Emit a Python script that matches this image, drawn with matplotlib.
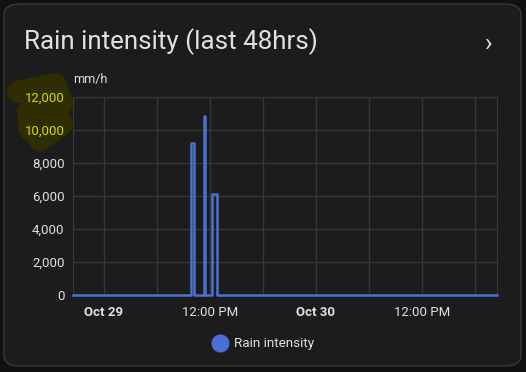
import matplotlib.pyplot as plt
from matplotlib.patches import FancyBboxPatch
from matplotlib.ticker import FuncFormatter
import pandas as pd

plt.rcParams['font.family'] = ['Roboto', 'DejaVu Sans']

# step data: time of change -> rain intensity (mm/h)
times = pd.to_datetime([
    "2023-10-28 20:30", "2023-10-29 09:49", "2023-10-29 10:14",
    "2023-10-29 11:17", "2023-10-29 11:26", "2023-10-29 12:16",
    "2023-10-29 12:48", "2023-10-30 20:30",
])
values = [0, 9200, 0, 10850, 0, 6100, 0, 0]

x_start = pd.Timestamp("2023-10-28 20:30")
x_end = pd.Timestamp("2023-10-30 20:30")
y_ticks = [0, 2000, 4000, 6000, 8000, 10000, 12000]
x_labels = ["Oct 29", "12:00 PM", "Oct 30", "12:00 PM"]

bg = '#1c1c1c'
blue = '#4a70d4'
fig = plt.figure(figsize=(5.26, 3.72), dpi=100)
fig.patch.set_facecolor('#111111')

card = FancyBboxPatch((4 / 526, 6 / 372), 517 / 526, 362 / 372,
                      boxstyle="round,pad=0,rounding_size=0.03",
                      transform=fig.transFigure, facecolor=bg,
                      edgecolor='#3a3a3a', linewidth=1, zorder=-10)
fig.add_artist(card)

# yellow scribble over the top labels
fig.add_artist(plt.Line2D(
    [18 / 526, 55 / 526, 62 / 526, 28 / 526, 30 / 526, 62 / 526, 40 / 526],
    [1 - 92 / 372, 1 - 84 / 372, 1 - 104 / 372, 1 - 112 / 372,
     1 - 130 / 372, 1 - 124 / 372, 1 - 140 / 372],
    transform=fig.transFigure, color='#2e2e00', lw=16,
    solid_capstyle='round', solid_joinstyle='round', zorder=-5))

fig.text(24 / 526, 1 - 42 / 372, "Rain intensity (last 48hrs)",
         color='#e1e1e1', fontsize=18.7, va='center', ha='left')
fig.text(489 / 526, 1 - 44 / 372, "›", color='#e1e1e1', fontsize=18,
         va='center', ha='center')
fig.text(73 / 526, 1 - 80 / 372, "mm/h", color='#e1e1e1', fontsize=9,
         va='center', ha='left')

ax = fig.add_axes([73 / 526, 1 - 295 / 372, 424 / 526, 198 / 372])
ax.set_facecolor('none')
ax.step(times, values, where='post', color=blue, lw=1.8, zorder=3,
        clip_on=False)
ax.set_xlim(x_start, x_end)
ax.set_ylim(0, 12000)
ax.set_yticks(y_ticks)
ax.yaxis.set_major_formatter(FuncFormatter(lambda v, p: f"{int(v):,}"))

major = pd.to_datetime(["2023-10-29 00:00", "2023-10-29 12:00",
                        "2023-10-30 00:00", "2023-10-30 12:00"])
minor = pd.date_range("2023-10-29 00:00", "2023-10-30 18:00", freq="6h")
ax.set_xticks(major)
ax.set_xticks(minor, minor=True)
ax.set_xticklabels(x_labels)
for lbl in ax.get_xticklabels():
    if lbl.get_text().startswith("Oct"):
        lbl.set_fontweight('bold')

ax.grid(True, which='both', color='#363636', lw=1)
ax.tick_params(which='both', length=0, colors='#e1e1e1', labelsize=9.5)
ax.tick_params(axis='x', pad=8)
ax.tick_params(axis='y', pad=6)
for lbl in ax.get_yticklabels():
    if lbl.get_text() in ("12,000", "10,000"):
        lbl.set_color('#d8d800')
for s in ax.spines.values():
    s.set_color('#363636')
ax.spines['bottom'].set_visible(False)
ax.set_axisbelow(True)

# legend
fig.add_artist(plt.Line2D([220 / 526], [1 - 343 / 372], marker='o',
                          markersize=12, color=blue, linestyle='none',
                          transform=fig.transFigure))
fig.text(234 / 526, 1 - 343 / 372, "Rain intensity", color='#e1e1e1',
         fontsize=9.7, va='center', ha='left')

fig.savefig("out.png", dpi=100, facecolor=fig.get_facecolor())
